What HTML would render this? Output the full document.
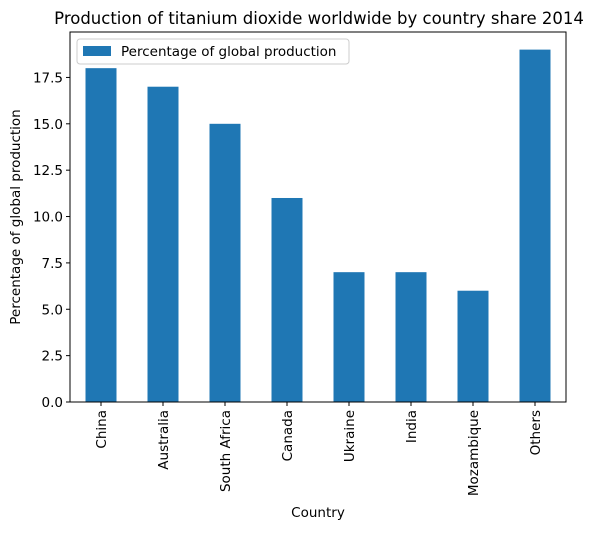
<!DOCTYPE html>
<html><head><meta charset="utf-8"><style>
body{margin:0;background:#fff;}
svg text{font-family:"DejaVu Sans","Liberation Sans",sans-serif;fill:#000;}
</style></head><body>
<svg id="chart" width="594" height="530" xmlns="http://www.w3.org/2000/svg">
<text x="319" y="24" font-size="16.5" text-anchor="middle">Production of titanium dioxide worldwide by country share 2014</text>
<g id="bars"></g>
<g id="axes"></g>
<text x="318" y="517" font-size="13.5" text-anchor="middle">Country</text>
<text transform="translate(20,217) rotate(-90)" font-size="13.5" text-anchor="middle">Percentage of global production</text>
<g>
<rect x="77" y="39" width="272" height="25" fill="#fff" stroke="#ccc" rx="3"/>
<rect x="83" y="46" width="28" height="10" fill="#1f77b4"/>
<text x="121" y="56" font-size="13.5">Percentage of global production</text>
</g>
</svg>
<script>
const categories=["China","Australia","South Africa","Canada","Ukraine","India","Mozambique","Others"];
const values=[18,17,15,11,7,7,6,19];
const yTicks=[0,2.5,5,7.5,10,12.5,15,17.5];
const yTickLabels=["0.0","2.5","5.0","7.5","10.0","12.5","15.0","17.5"];
const L=70,R=566,T=32,B=402,yMax=19.95;
const NS="http://www.w3.org/2000/svg";
function y(v){return B-(v/yMax)*(B-T);}
const step=(R-L)/categories.length;
function xc(i){return L+step*(i+0.5);}
const bars=document.getElementById('bars'),axes=document.getElementById('axes');
function mk(tag,attrs,parent){const e=document.createElementNS(NS,tag);for(const k in attrs)e.setAttribute(k,attrs[k]);parent.appendChild(e);return e;}
values.forEach((v,i)=>{
 const r=mk('rect',{x:xc(i)-step/4,y:y(v),width:step/2,height:B-y(v),fill:'#1f77b4'},bars);
 
 
 mk('line',{x1:xc(i),x2:xc(i),y1:B,y2:B+4,stroke:'#000'},axes);
 const t=mk('text',{transform:`translate(${xc(i)+5},${B+8}) rotate(-90)`,'font-size':13.5,'text-anchor':'end'},axes);
 t.textContent=categories[i];
 
 
});
yTicks.forEach((v,i)=>{
 mk('line',{x1:L-4,x2:L,y1:y(v),y2:y(v),stroke:'#000'},axes);
 const t=mk('text',{x:L-7,y:y(v)+5,'font-size':13.5,'text-anchor':'end'},axes);
 t.textContent=yTickLabels[i];
 
 
});
const f=mk('rect',{x:L,y:T,width:R-L,height:B-T,fill:'none',stroke:'#000','stroke-width':1},axes);


</script>
</body></html>
